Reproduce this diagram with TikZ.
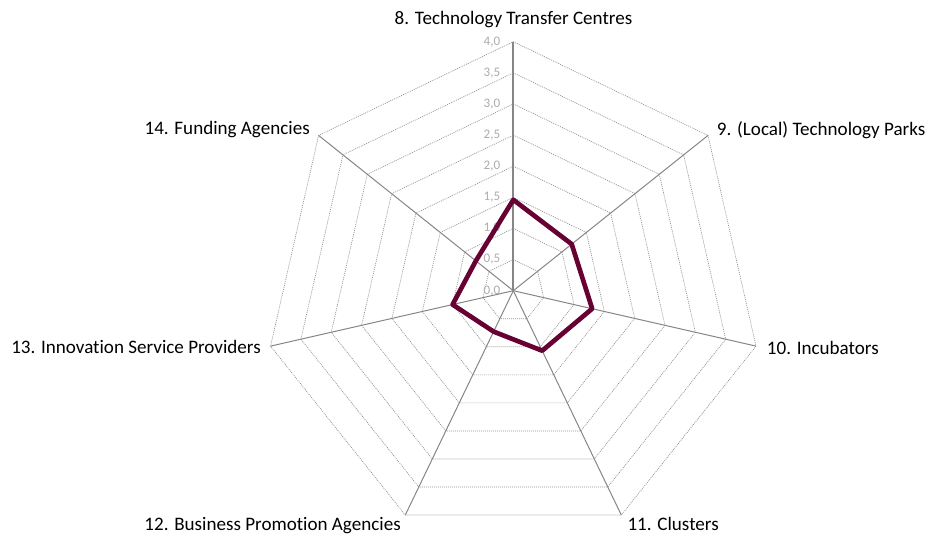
\documentclass[tikz,border=0pt]{standalone}
\usepackage{fontspec}
\setmainfont{Carlito}[Ligatures=NoCommon]
\usetikzlibrary{calc}

\definecolor{spokegray}{RGB}{134,134,134}
\definecolor{ringgray}{RGB}{145,145,145}
\definecolor{tickgray}{RGB}{172,172,172}
\definecolor{seriesred}{RGB}{103,0,51}

\tikzset{
  spoke/.style={draw=spokegray, line width=0.75pt},
  ring/.style={draw=ringgray, line width=0.5pt, dash pattern=on 0.75pt off 0.75pt},
  ticklbl/.style={anchor=east, inner sep=0pt, text=tickgray, font=\fontsize{9.8}{11}\selectfont},
  catlbl/.style={inner sep=0pt, font=\fontsize{14.3}{17}\selectfont},
  series/.style={draw=seriesred, line width=3.5pt, line join=round}
}

\begin{document}
\begin{tikzpicture}[x=0.75pt,y=0.75pt,yscale=-1,xscale=1]
\useasboundingbox (0,0) rectangle (929,536);

% Centre
\coordinate (ctr) at (513.3,290.7);

\begin{scope}[shift={(ctr)}]
% Grid Rings
\draw [ring] (270:31.13) -- (321.43:31.13) -- (12.86:31.13) -- (64.29:31.13) -- (115.71:31.13) -- (167.14:31.13) -- (218.57:31.13) -- cycle;
\draw [ring] (270:62.25) -- (321.43:62.25) -- (12.86:62.25) -- (64.29:62.25) -- (115.71:62.25) -- (167.14:62.25) -- (218.57:62.25) -- cycle;
\draw [ring] (270:93.38) -- (321.43:93.38) -- (12.86:93.38) -- (64.29:93.38) -- (115.71:93.38) -- (167.14:93.38) -- (218.57:93.38) -- cycle;
\draw [ring] (270:124.5) -- (321.43:124.5) -- (12.86:124.5) -- (64.29:124.5) -- (115.71:124.5) -- (167.14:124.5) -- (218.57:124.5) -- cycle;
\draw [ring] (270:155.63) -- (321.43:155.63) -- (12.86:155.63) -- (64.29:155.63) -- (115.71:155.63) -- (167.14:155.63) -- (218.57:155.63) -- cycle;
\draw [ring] (270:186.75) -- (321.43:186.75) -- (12.86:186.75) -- (64.29:186.75) -- (115.71:186.75) -- (167.14:186.75) -- (218.57:186.75) -- cycle;
\draw [ring] (270:217.88) -- (321.43:217.88) -- (12.86:217.88) -- (64.29:217.88) -- (115.71:217.88) -- (167.14:217.88) -- (218.57:217.88) -- cycle;
\draw [ring] (270:249) -- (321.43:249) -- (12.86:249) -- (64.29:249) -- (115.71:249) -- (167.14:249) -- (218.57:249) -- cycle;

% Axis Ends
\coordinate (a8) at (270:249);
\coordinate (a9) at (321.43:249);
\coordinate (a10) at (12.86:249);
\coordinate (a11) at (64.29:249);
\coordinate (a12) at (115.71:249);
\coordinate (a13) at (167.14:249);
\coordinate (a14) at (218.57:249);

% Tick Labels
\node [ticklbl] (t0) at (-12.8,0) {0,0};
\node [ticklbl] (t1) at (-12.8,-31.13) {0,5};
\node [ticklbl] (t2) at (-12.8,-62.25) {1,0};
\node [ticklbl] (t3) at (-12.8,-93.38) {1,5};
\node [ticklbl] (t4) at (-12.8,-124.5) {2,0};
\node [ticklbl] (t5) at (-12.8,-155.63) {2,5};
\node [ticklbl] (t6) at (-12.8,-186.75) {3,0};
\node [ticklbl] (t7) at (-12.8,-217.88) {3,5};
\node [ticklbl] (t8) at (-12.8,-249) {4,0};
\end{scope}

% Axes
\draw [spoke] (ctr) -- (a9);
\draw [spoke] (ctr) -- (a10);
\draw [spoke] (ctr) -- (a11);
\draw [spoke] (ctr) -- (a12);
\draw [spoke] (ctr) -- (a13);
\draw [spoke] (ctr) -- (a14);
\draw [spoke, line width=1.5pt] (ctr) -- (a8);

% Series
\begin{scope}[shift={(ctr)}]
\draw [series] (270:90.9) -- (321.43:74.7) -- (12.86:80.9) -- (64.29:66.6) -- (115.71:45.4) -- (167.14:62.3) -- (218.57:47.9) -- cycle;
\end{scope}

% Text Node
\node [catlbl, anchor=base] (l8) at (513.5,24.5) {8. Technology Transfer Centres};
% Text Node
\node [catlbl, anchor=base west] (l9) at (716.7,135.5) {9. (Local) Technology Parks};
% Text Node
\node [catlbl, anchor=base west] (l10) at (766.7,354.3) {10. Incubators};
% Text Node
\node [catlbl, anchor=base west] (l11) at (627.3,530) {11. Clusters};
% Text Node
\node [catlbl, anchor=base east] (l12) at (401,530) {12. Business Promotion Agencies};
% Text Node
\node [catlbl, anchor=base east] (l13) at (261,353.3) {13. Innovation Service Providers};
% Text Node
\node [catlbl, anchor=base east] (l14) at (310,134.5) {14. Funding Agencies};

\end{tikzpicture}
\end{document}
